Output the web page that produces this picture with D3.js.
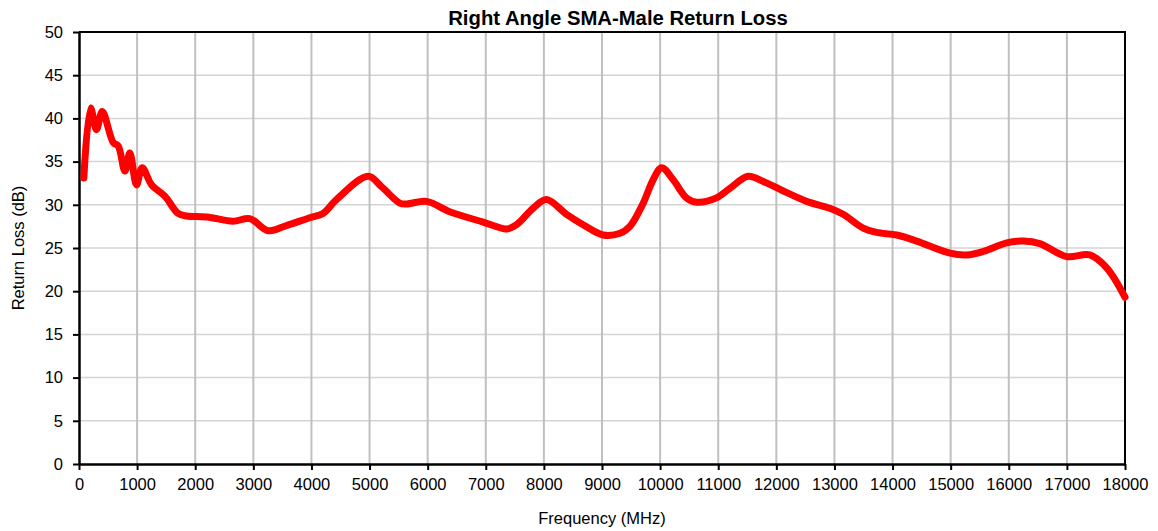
<!DOCTYPE html>
<html>
<head>
<meta charset="utf-8">
<script src="https://cdn.jsdelivr.net/npm/d3@7"></script>
<style>
    body { margin: 0; background: #fff; }
    svg { font-family: "Liberation Sans", Arial, sans-serif; }
</style>
</head>
<body>
<script>
    // values
    var freqs = [83, 200, 300, 400, 590, 675, 790, 875, 990, 1087, 1250, 1477, 1705, 1850, 2200, 2650, 2940,
        3255, 3570, 3970, 4200, 4430, 4975, 5205, 5520, 5640, 5980, 6380, 6955, 7360, 7530, 7815, 8045,
        8390, 8675, 9020, 9310, 9480, 9710, 9880, 10025, 10225, 10455, 10630, 10970, 11200, 11515, 11775,
        12120, 12520, 12920, 13150, 13495, 13725, 14070, 14415, 14990, 15275, 15560, 15965, 16250, 16535,
        16995, 17395, 17685, 18000];
    var returnLoss = [33.1, 41.2, 38.7, 40.8, 37.2, 36.8, 33.9, 36.0, 32.3, 34.3, 32.3, 31.0, 29.0, 28.7, 28.6, 28.1, 28.4,
        27.0, 27.6, 28.5, 29.0, 30.6, 33.3, 32.1, 30.2, 30.1, 30.4, 29.2, 28.0, 27.2, 27.7, 29.6, 30.6,
        28.9, 27.7, 26.5, 26.7, 27.5, 30.2, 32.9, 34.3, 32.9, 30.8, 30.3, 30.8, 31.9, 33.3, 32.7,
        31.6, 30.4, 29.6, 28.9, 27.3, 26.8, 26.5, 25.8, 24.4, 24.2, 24.6, 25.6, 25.8, 25.5,
        24.0, 24.2, 22.7, 19.3];
    var xTicks = d3.range(0, 18001, 1000);
    var yTicks = d3.range(0, 51, 5);

    var width = 1158;
    var height = 531;
    var padLeft = 79, padRight = 1125, padTop = 32, padBottom = 464;

    var svg = d3.select('body').append('svg')
        .attr('width', width)
        .attr('height', height);

    var xScale = d3.scaleLinear().domain([0, 18000]).range([padLeft, padRight]);
    var yScale = d3.scaleLinear().domain([0, 50]).range([padBottom, padTop]);

    // grid
    svg.append('g')
        .selectAll('line')
        .data(yTicks.slice(1, -1))
        .enter()
        .append('line')
        .attr('x1', padLeft).attr('x2', padRight)
        .attr('y1', d => yScale(d)).attr('y2', d => yScale(d))
        .attr('stroke', '#d4d4d4')
        .attr('stroke-width', 1.5);

    svg.append('g')
        .selectAll('line')
        .data(xTicks.slice(1, -1))
        .enter()
        .append('line')
        .attr('x1', d => xScale(d)).attr('x2', d => xScale(d))
        .attr('y1', padTop).attr('y2', padBottom)
        .attr('stroke', '#c0c0c0')
        .attr('stroke-width', 2);

    // frame top + right
    svg.append('path')
        .attr('d', 'M' + padLeft + ',' + padTop + 'H' + padRight + 'V' + padBottom)
        .attr('fill', 'none')
        .attr('stroke', '#000')
        .attr('stroke-width', 2);

    // axes
    var xAxis = d3.axisBottom(xScale).tickValues(xTicks).tickFormat(d3.format('d'))
        .tickSize(6).tickSizeOuter(0).tickPadding(8);
    svg.append('g')
        .attr('transform', 'translate(0,' + padBottom + ')')
        .call(xAxis)
        .call(g => g.select('.domain').attr('stroke-width', 2.5))
        .call(g => g.selectAll('.tick line').attr('stroke-width', 2))
        .call(g => g.selectAll('text').attr('font-size', 16.5).attr('fill', '#000').attr('font-family', null));

    var yAxis = d3.axisLeft(yScale).tickValues(yTicks).tickFormat(d3.format('d'))
        .tickSize(6).tickSizeOuter(0).tickPadding(10);
    svg.append('g')
        .attr('transform', 'translate(' + padLeft + ',0)')
        .call(yAxis)
        .call(g => g.select('.domain').attr('stroke-width', 2.5))
        .call(g => g.selectAll('.tick line').attr('stroke-width', 2))
        .call(g => g.selectAll('text').attr('font-size', 16.5).attr('fill', '#000').attr('font-family', null));

    // the curve
    var line = d3.line()
        .x((d, i) => xScale(freqs[i]))
        .y(d => yScale(d))
        .curve(d3.curveCatmullRom.alpha(0.5));

    svg.append('path')
        .datum(returnLoss)
        .attr('d', line)
        .attr('fill', 'none')
        .attr('stroke', '#ff0000')
        .attr('stroke-width', 7)
        .attr('stroke-linecap', 'round')
        .attr('stroke-linejoin', 'round');

    // titles
    svg.append('text')
        .attr('x', 618)
        .attr('y', 25)
        .attr('text-anchor', 'middle')
        .attr('font-size', 20.3)
        .attr('font-weight', 'bold')
        .text('Right Angle SMA-Male Return Loss');

    svg.append('text')
        .attr('x', (padLeft + padRight) / 2)
        .attr('y', 524)
        .attr('text-anchor', 'middle')
        .attr('font-size', 16.5)
        .text('Frequency (MHz)');

    svg.append('text')
        .attr('transform', 'translate(24,' + ((padTop + padBottom) / 2) + ') rotate(-90)')
        .attr('text-anchor', 'middle')
        .attr('font-size', 16.5)
        .text('Return Loss (dB)');
</script>
</body>
</html>
